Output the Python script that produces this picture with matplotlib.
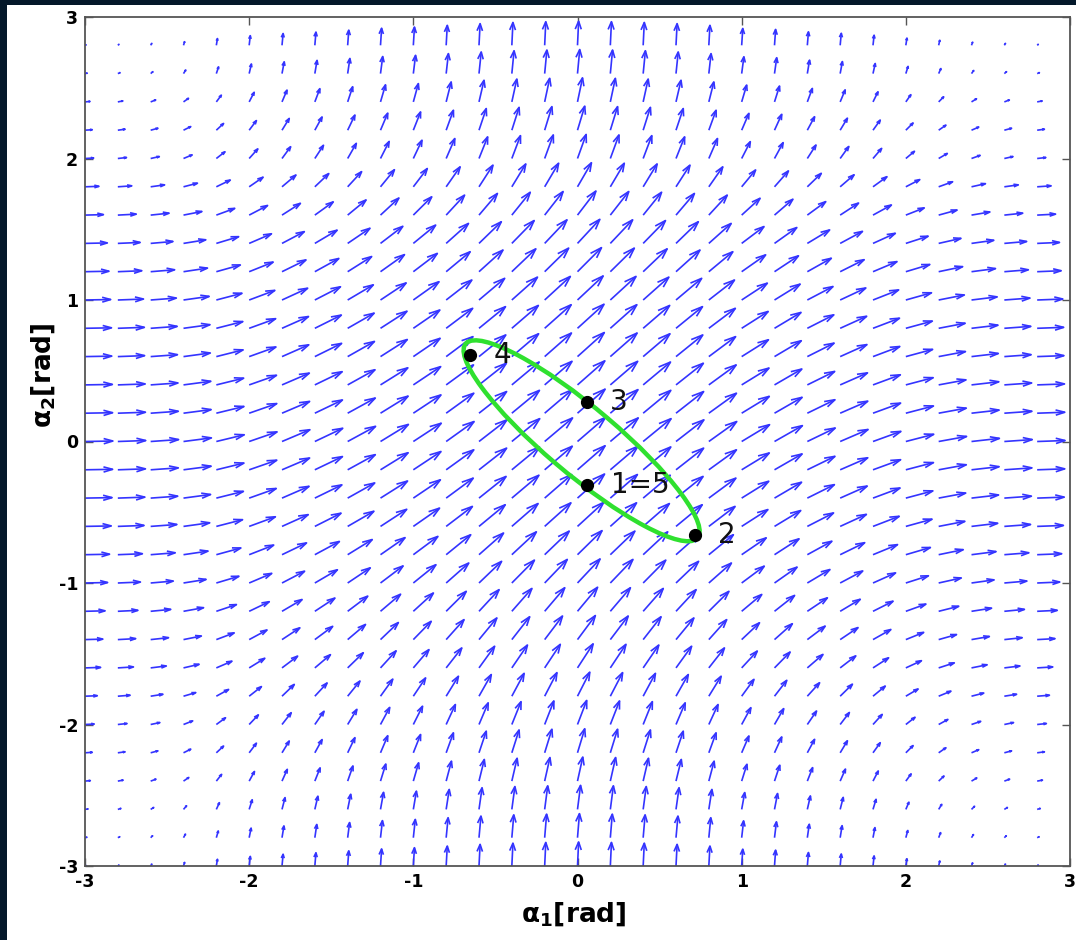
import numpy as np
import matplotlib.pyplot as plt
from matplotlib.collections import LineCollection
from matplotlib.patches import Ellipse, Rectangle

# grid of the field, -3:0.2:2.8 in both angles
a1_grid = np.round(np.arange(-3.0, 2.81, 0.2), 1)
a2_grid = np.round(np.arange(-3.0, 2.81, 0.2), 1)

# relative horizontal component, read per row (alpha_2 from -3.0 to 2.8)
u_rel = [0.04, 0.07, 0.11, 0.19, 0.26, 0.33, 0.44, 0.56, 0.64, 0.72,
         0.81, 0.88, 0.94, 0.97, 0.99, 1.00, 0.99, 0.98, 0.96, 0.95,
         0.92, 0.86, 0.80, 0.66, 0.50, 0.31, 0.26, 0.18, 0.08, 0.04]
# relative vertical component, read per column (alpha_1 from -3.0 to 2.8)
v_rel = [0.02, 0.04, 0.08, 0.15, 0.28, 0.40, 0.49, 0.55, 0.63, 0.71,
         0.76, 0.83, 0.90, 0.95, 0.98, 1.00, 0.98, 0.95, 0.90, 0.83,
         0.70, 0.66, 0.56, 0.50, 0.42, 0.30, 0.21, 0.13, 0.08, 0.04]
arrow_len = 0.17

# closed trajectory (green) and the marked states on it
orbit_center = (0.025, 0.005)
orbit_width = 1.97
orbit_height = 0.45
orbit_angle = -44.6
pt_labels = ['1=5', '2', '3', '4']
pt_a1 = [0.06, 0.715, 0.055, -0.655]
pt_a2 = [-0.31, -0.66, 0.28, 0.61]

plt.rcParams['font.family'] = ['DejaVu Sans']
plt.rcParams['mathtext.fontset'] = 'dejavusans'
plt.rcParams['mathtext.default'] = 'bf'
plt.rcParams['axes.unicode_minus'] = False

fig = plt.figure(figsize=(10.76, 9.4), dpi=100)
fig.patch.set_facecolor('#04182a')
fig.add_artist(Rectangle((7 / 1076, 0), 1, 1 - 5 / 940, transform=fig.transFigure,
                         facecolor='white', edgecolor='none', zorder=-1))
ax = fig.add_axes([85 / 1076, 74 / 940, 985 / 1076, 849 / 940])

X, Y = np.meshgrid(a1_grid, a2_grid)
U = np.array(u_rel)[:, None] * np.ones(len(a1_grid))[None, :] * arrow_len
V = np.ones(len(a2_grid))[:, None] * np.array(v_rel)[None, :] * arrow_len

# matlab style quiver: shaft + open head
ha, hb = 0.33, 0.33
segs = []
for x, y, u, v in zip(X.ravel(), Y.ravel(), U.ravel(), V.ravel()):
    tx, ty = x + u, y + v
    segs.append([(x, y), (tx, ty)])
    segs.append([(tx - ha * (u + hb * v), ty - ha * (v - hb * u)), (tx, ty),
                 (tx - ha * (u - hb * v), ty - ha * (v + hb * u))])
ax.add_collection(LineCollection(segs, colors='#3434ff', linewidths=1.2))

ax.add_patch(Ellipse(orbit_center, orbit_width, orbit_height, angle=orbit_angle,
                     fill=False, edgecolor='#2fe02f', linewidth=3.2, zorder=3))
ax.plot(pt_a1, pt_a2, 'o', color='black', markersize=8.5, zorder=4)
for lab, x, y in zip(pt_labels, pt_a1, pt_a2):
    ax.annotate(lab, (x, y), xytext=(17, 0), textcoords='offset points',
                fontsize=20, va='center', ha='left', color='#111111', zorder=5)

ax.set_xlim(-3, 3)
ax.set_ylim(-3, 3)
ax.set_xticks(range(-3, 4))
ax.set_yticks(range(-3, 4))
ax.tick_params(direction='in', length=6, width=1, color='#555555',
               top=True, right=True, labelsize=12.5, pad=5)
plt.setp(ax.get_xticklabels() + ax.get_yticklabels(), fontweight='bold')
for s in ax.spines.values():
    s.set_color('#555555')
    s.set_linewidth(1.3)

ax.set_xlabel(r'$\alpha_1$[rad]', fontsize=19, fontweight='bold')
ax.set_ylabel(r'$\alpha_2$[rad]', fontsize=19, fontweight='bold')
ax.xaxis.set_label_coords(0.496, -0.040)
ax.yaxis.set_label_coords(-0.028, 0.578)

plt.savefig('out.png', dpi=100, facecolor=fig.get_facecolor())
